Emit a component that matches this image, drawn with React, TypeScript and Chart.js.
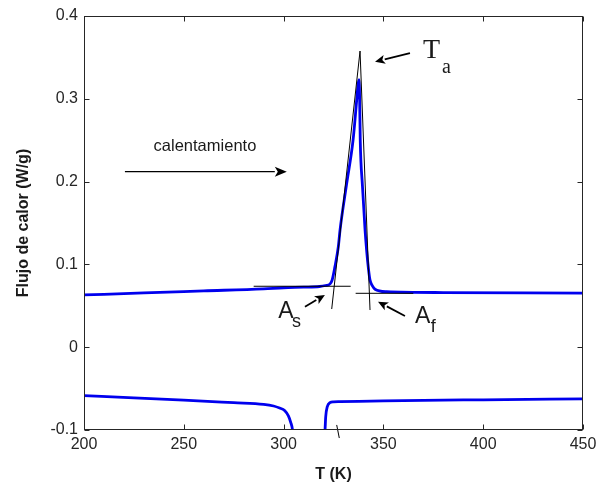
import { useEffect, useRef } from "react";
import { Chart, registerables } from "chart.js";

Chart.register(...registerables);

// ---- Data (T in K, heat flow in W/g) ----
const heatT = [200, 230, 260, 290, 300, 310, 318, 321, 323.3, 324.3, 325.7, 327.4, 328.3, 331.5, 334.8, 336.5, 337.3, 337.8, 338.1, 338.4, 339.5, 340.8, 341.6, 342.5, 343.3, 344.5, 345.8, 351.6, 380, 450];
const heatQ = [0.0631, 0.0655, 0.068, 0.0705, 0.0718, 0.0725, 0.0733, 0.0745, 0.0765, 0.081, 0.097, 0.121, 0.142, 0.196, 0.25, 0.295, 0.317, 0.323, 0.3, 0.25, 0.195, 0.142, 0.117, 0.095, 0.081, 0.074, 0.07, 0.067, 0.066, 0.0652];

const coolLeftT = [200, 225, 250, 275, 290, 295, 298, 300.5, 302.4, 303.6, 304.4, 305.2];
const coolLeftQ = [-0.0586, -0.0612, -0.0638, -0.067, -0.069, -0.071, -0.0735, -0.0765, -0.083, -0.091, -0.099, -0.12];

const coolRightT = [320.4, 320.8, 321.1, 321.9, 323.2, 325, 328.2, 350, 400, 450];
const coolRightQ = [-0.115, -0.098, -0.084, -0.0718, -0.067, -0.066, -0.0658, -0.0648, -0.0635, -0.0625];

const tanLeftT = [324.1, 338.3];
const tanLeftQ = [0.0461, 0.3577];
const tanRightT = [338.3, 343.3];
const tanRightQ = [0.3577, 0.0449];
const baseLeftT = [285, 333.6];
const baseLeftQ = [0.0736, 0.0736];
const baseRightT = [336.1, 365];
const baseRightQ = [0.0651, 0.0651];
const markT = [326.6, 327.9];
const markQ = [-0.0939, -0.1097];

const xTicks = { min: 200, max: 450, step: 50 };
const yTicks = { min: -0.1, max: 0.4, step: 0.1 };

// ---- Annotations (data coordinates) ----
const arrows = [
  { from: [220.5, 0.212], to: [301.6, 0.212], head: 12, half: 5, lw: 1.4 },
  { from: [363.3, 0.3553], to: [345.8, 0.3448], head: 10, half: 4.5, lw: 1.8 },
  { from: [310.7, 0.0489], to: [320.7, 0.0631], head: 10, half: 4.5, lw: 1.8 },
  { from: [360.8, 0.0377], to: [347.3, 0.055], head: 10, half: 4.5, lw: 1.8 },
];
const labels = [
  { text: "calentamiento", at: [260.6, 0.237], font: "16.5px 'Liberation Sans', Arial, sans-serif", align: "center" },
  { text: "T", at: [369.8, 0.3493], font: "28px 'Liberation Serif', 'Times New Roman', serif", align: "left" },
  { text: "a", at: [379.4, 0.3312], font: "20px 'Liberation Serif', 'Times New Roman', serif", align: "left" },
  { text: "A", at: [297.3, 0.0349], font: "23px 'Liberation Sans', Arial, sans-serif", align: "left" },
  { text: "s", at: [304.2, 0.0248], font: "18px 'Liberation Sans', Arial, sans-serif", align: "left" },
  { text: "A", at: [365.8, 0.0289], font: "23px 'Liberation Sans', Arial, sans-serif", align: "left" },
  { text: "f", at: [373.7, 0.0187], font: "18px 'Liberation Sans', Arial, sans-serif", align: "left" },
];

const toPts = (xs: number[], ys: number[]) => xs.map((x, i) => ({ x, y: ys[i] }));

const overlayPlugin = {
  id: "overlay",
  afterDatasetsDraw(chart: any) {
    const { ctx, chartArea: a, scales } = chart;
    const sx = scales.x;
    const sy = scales.y;
    ctx.save();
    // frame
    ctx.strokeStyle = "#262626";
    ctx.lineWidth = 1;
    const L = Math.round(a.left) + 0.5;
    const R = Math.round(a.right) - 0.5;
    const T = Math.round(a.top) + 0.5;
    const B = Math.round(a.bottom) - 0.5;
    ctx.strokeRect(L, T, R - L, B - T);
    // inside ticks
    ctx.beginPath();
    sx.ticks.forEach((t: any) => {
      const px = Math.round(sx.getPixelForValue(t.value)) + 0.5;
      ctx.moveTo(px, B);
      ctx.lineTo(px, B - 5);
      ctx.moveTo(px, T);
      ctx.lineTo(px, T + 5);
    });
    sy.ticks.forEach((t: any) => {
      const py = Math.round(sy.getPixelForValue(t.value)) + 0.5;
      ctx.moveTo(L, py);
      ctx.lineTo(L + 5, py);
      ctx.moveTo(R, py);
      ctx.lineTo(R - 5, py);
    });
    ctx.stroke();

    // arrows
    ctx.strokeStyle = "#000";
    ctx.fillStyle = "#000";
    arrows.forEach((ar) => {
      const x1 = sx.getPixelForValue(ar.from[0]);
      const y1 = sy.getPixelForValue(ar.from[1]);
      const x2 = sx.getPixelForValue(ar.to[0]);
      const y2 = sy.getPixelForValue(ar.to[1]);
      const ang = Math.atan2(y2 - y1, x2 - x1);
      const bx = x2 - ar.head * Math.cos(ang);
      const by = y2 - ar.head * Math.sin(ang);
      ctx.lineWidth = ar.lw;
      ctx.beginPath();
      ctx.moveTo(x1, y1);
      ctx.lineTo(bx, by);
      ctx.stroke();
      ctx.beginPath();
      ctx.moveTo(x2, y2);
      ctx.lineTo(bx + ar.half * Math.sin(ang), by - ar.half * Math.cos(ang));
      ctx.lineTo(bx + ar.head * 0.25 * Math.cos(ang), by + ar.head * 0.25 * Math.sin(ang));
      ctx.lineTo(bx - ar.half * Math.sin(ang), by + ar.half * Math.cos(ang));
      ctx.closePath();
      ctx.fill();
    });

    // labels
    ctx.fillStyle = "#1a1a1a";
    ctx.textBaseline = "alphabetic";
    labels.forEach((lb) => {
      ctx.font = lb.font;
      ctx.textAlign = lb.align as CanvasTextAlign;
      ctx.fillText(lb.text, sx.getPixelForValue(lb.at[0]), sy.getPixelForValue(lb.at[1]));
    });
    ctx.restore();
  },
};

export default function App() {
  const ref = useRef<HTMLCanvasElement | null>(null);
  useEffect(() => {
    if (!ref.current) return;
    Chart.defaults.font.family = "'Liberation Sans', Arial, sans-serif";
    const blue = "#0000ee";
    const black = "#000000";
    const line = (data: any, color: string, width: number, order: number, extra: any = {}) => ({
      data,
      borderColor: color,
      backgroundColor: color,
      borderWidth: width,
      showLine: true,
      pointRadius: 0,
      fill: false,
      order,
      ...extra,
    });
    const chart = new Chart(ref.current, {
      type: "scatter",
      data: {
        datasets: [
          line(toPts(tanLeftT, tanLeftQ), black, 1, 0),
          line(toPts(tanRightT, tanRightQ), black, 1, 0),
          line(toPts(baseLeftT, baseLeftQ), black, 1, 0),
          line(toPts(baseRightT, baseRightQ), black, 1, 0),
          line(toPts(markT, markQ), black, 1, 0, { clip: false }),
          line(toPts(heatT, heatQ), blue, 2.8, 1, { cubicInterpolationMode: "monotone" }),
          line(toPts(coolLeftT, coolLeftQ), blue, 2.8, 1, { cubicInterpolationMode: "monotone" }),
          line(toPts(coolRightT, coolRightQ), blue, 2.8, 1, { cubicInterpolationMode: "monotone" }),
        ],
      },
      options: {
        animation: false,
        responsive: false,
        maintainAspectRatio: false,
        layout: { padding: { left: 0, top: 16, right: 15, bottom: 0 } },
        plugins: { legend: { display: false }, tooltip: { enabled: false } },
        scales: {
          x: {
            type: "linear",
            min: xTicks.min,
            max: xTicks.max,
            grid: { display: false, drawTicks: false },
            border: { display: false },
            ticks: { stepSize: xTicks.step, autoSkip: false, maxRotation: 0, padding: 5, color: "#262626", font: { size: 16 } },
            title: { display: true, text: "T (K)", color: "#1a1a1a", font: { size: 16, weight: "bold" }, padding: { top: 0, bottom: 2 } },
            afterFit: (s: any) => { s.height = 56; s.paddingLeft = 0; s.paddingRight = 0; },
          },
          y: {
            type: "linear",
            min: yTicks.min,
            max: yTicks.max,
            grid: { display: false, drawTicks: false },
            border: { display: false },
            ticks: {
              stepSize: yTicks.step,
              autoSkip: false,
              padding: 6,
              color: "#262626",
              font: { size: 16 },
              callback: (v: any) => (Math.abs(Number(v)) < 1e-9 ? "0" : Number(v).toFixed(1)),
            },
            title: { display: true, text: "Flujo de calor (W/g)", color: "#1a1a1a", font: { size: 16, weight: "bold" }, padding: { top: 14, bottom: 0 } },
            afterFit: (s: any) => { s.width = 84; s.paddingTop = 0; s.paddingBottom = 0; },
          },
        },
      },
      plugins: [overlayPlugin],
    } as any);
    return () => chart.destroy();
  }, []);
  return (
    <div style={{ position: "absolute", left: 0, top: 0, width: 598, height: 486, background: "#fff" }}>
      <canvas ref={ref} width={598} height={486} style={{ display: "block" }} />
    </div>
  );
}
